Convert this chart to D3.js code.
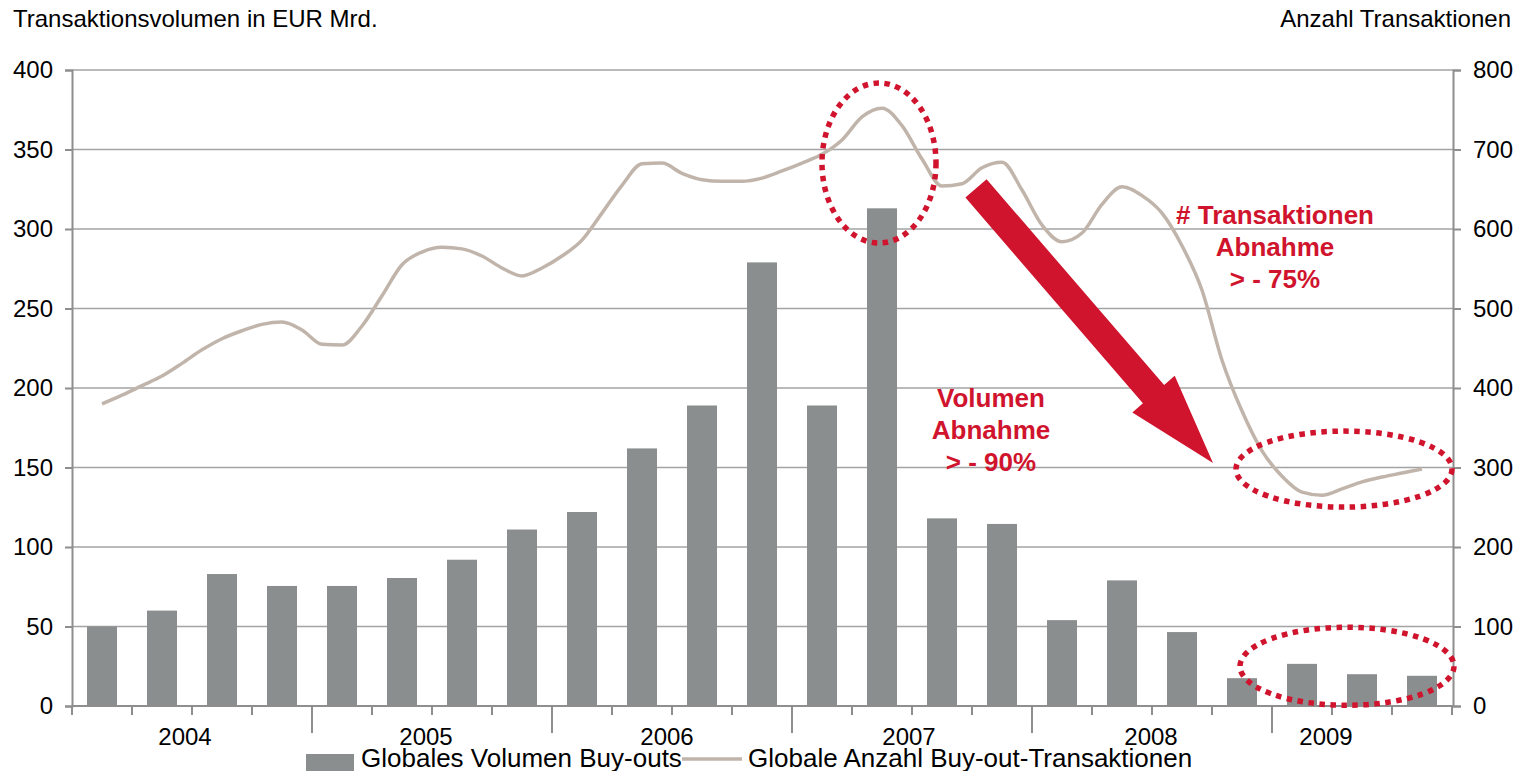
<!DOCTYPE html>
<html><head><meta charset="utf-8">
<script src="https://cdn.jsdelivr.net/npm/d3@7"></script>
<style>
html,body{margin:0;padding:0;background:#fff;}
svg{display:block;font-family:"Liberation Sans",Arial,sans-serif;}
</style></head>
<body>
<svg id="chart" width="1524" height="771"></svg>
<script>
// ---- data ----
const quarters = ["Q1 2004","Q2 2004","Q3 2004","Q4 2004","Q1 2005","Q2 2005","Q3 2005","Q4 2005",
  "Q1 2006","Q2 2006","Q3 2006","Q4 2006","Q1 2007","Q2 2007","Q3 2007","Q4 2007",
  "Q1 2008","Q2 2008","Q3 2008","Q4 2008","Q1 2009","Q2 2009","Q3 2009"];
const years = ["2004","2005","2006","2007","2008","2009"];
const volume = [50,60,83,75.5,75.5,80.5,92,111,122,162,189,279,189,313,118,114.5,54,79,46.5,17.5,26.5,20,19];
// monthly number of deals (Jan 2004 .. Jul 2009)
const deals = [380,391,403,415,431,448,462,472,480,483,473,455,454,478,516,555,571,577,575,566,
  551,541,551,566,586,620,655,682,683,670,662,660,660,664,673,683,694,712,741,752,
  730,688,654,657,677,684,649,605,584,595,631,653,642,620,579,523,435,371,321,289,
  269,265,273,282,288,293,298];
const leftTicks = [0,50,100,150,200,250,300,350,400];
const rightTicks = [0,100,200,300,400,500,600,700,800];
const titleLeft = "Transaktionsvolumen in EUR Mrd.";
const titleRight = "Anzahl Transaktionen";
const seriesNames = ["Globales Volumen Buy-outs","Globale Anzahl Buy-out-Transaktionen"];
const noteVolume = ["Volumen","Abnahme","> - 90%"];
const noteDeals = ["# Transaktionen","Abnahme","> - 75%"];

// ---- layout ----
const L = 72, R = 1453, T = 70, B = 706;
const barColor = "#8b8e8e", lineColor = "#c1b5ab", gridColor = "#a3a3a3", axisColor = "#8e8e8e", red = "#d0142e";
const svg = d3.select("#chart");

const x = d3.scaleBand(quarters, [L, R - 1]).paddingInner(0.5).paddingOuter(0.25);
const yL = d3.scaleLinear([0, 400], [B, T]);
const yR = d3.scaleLinear([0, 800], [B, T]);
const xc = q => x(q) + x.bandwidth() / 2;
const xm = d3.scaleLinear([0, deals.length - 1], [xc(quarters[0]), xc(quarters[quarters.length - 1])]);
const step = x.step();

// gridlines
svg.append("g").selectAll("line").data(leftTicks.filter(d => d > 0)).join("line")
  .attr("x1", L).attr("x2", R).attr("y1", d => yL(d)).attr("y2", d => yL(d))
  .attr("stroke", gridColor).attr("stroke-width", 1.5);

// bars
svg.append("g").selectAll("rect").data(volume).join("rect")
  .attr("x", (d, i) => x(quarters[i])).attr("width", x.bandwidth())
  .attr("y", d => yL(d)).attr("height", d => B - yL(d))
  .attr("fill", barColor);

// axes
const axL = svg.append("g").attr("transform", `translate(${L},0)`)
  .call(d3.axisLeft(yL).tickValues(leftTicks).tickSize(7).tickPadding(12));
const axR = svg.append("g").attr("transform", `translate(${R},0)`)
  .call(d3.axisRight(yR).tickValues(rightTicks).tickSize(8).tickPadding(12));
[axL, axR].forEach(a => {
  a.select(".domain").attr("stroke", axisColor).attr("stroke-width", 2);
  a.selectAll(".tick line").attr("stroke", axisColor).attr("stroke-width", 2);
  a.selectAll(".tick text").attr("font-size", 24).attr("fill", "#000")
    .attr("font-family", '"Liberation Sans",Arial,sans-serif');
});

// bottom axis line
svg.append("line").attr("x1", L).attr("x2", R).attr("y1", B).attr("y2", B)
  .attr("stroke", axisColor).attr("stroke-width", 2);
// category ticks
const bounds = quarters.map((q, i) => ({i, pos: x(q) - step * x.paddingInner() / 2}));
bounds.push({i: quarters.length, pos: x(quarters[quarters.length - 1]) + x.bandwidth() + step * x.paddingInner() / 2});
svg.append("g").selectAll("line").data(bounds).join("line")
  .attr("x1", d => d.pos).attr("x2", d => d.pos)
  .attr("y1", B).attr("y2", d => (d.i % 4 === 0 && d.i > 0 && d.i < quarters.length) ? 733 : 715)
  .attr("stroke", axisColor).attr("stroke-width", 2);
// year labels (Excel-like placement: slightly left of group centre; last, partial year shifted further)
const yearShift = {"2004": -7, "2005": -6, "2006": -5, "2007": -3, "2008": -1, "2009": -36};
svg.append("g").selectAll("text").data(years).join("text")
  .attr("x", y => {
    const qs = quarters.filter(q => q.endsWith(y));
    return (x(qs[0]) + x(qs[qs.length - 1]) + x.bandwidth()) / 2 + yearShift[y];
  })
  .attr("y", 745).attr("text-anchor", "middle").attr("font-size", 24).text(d => d);

// line
svg.append("path").datum(deals)
  .attr("d", d3.line().x((d, i) => xm(i)).y(d => yR(d)).curve(d3.curveMonotoneX))
  .attr("fill", "none").attr("stroke", lineColor).attr("stroke-width", 3.5).attr("stroke-linejoin", "round");

// titles
svg.append("text").attr("x", 13).attr("y", 27).attr("font-size", 24).text(titleLeft);
svg.append("text").attr("x", 1511).attr("y", 27).attr("font-size", 24).attr("text-anchor", "end").text(titleRight);

// annotations: dotted ellipses
const ell = [
  {cx: xc(quarters[13]) - 3, cy: yR(683), rx: 57, ry: 80},
  {cx: xm(62.1), cy: yR(298), rx: 108, ry: 38},
  {cx: xm(62.25), cy: yL(25), rx: 107, ry: 39}
];
svg.append("g").selectAll("ellipse").data(ell).join("ellipse")
  .attr("cx", d => d.cx).attr("cy", d => d.cy).attr("rx", d => d.rx).attr("ry", d => d.ry)
  .attr("fill", "none").attr("stroke", red).attr("stroke-width", 5.5).attr("stroke-dasharray", "5.5 5.5");

// arrow
(function () {
  const x0 = xm(43.7), y0 = yR(651), x1 = xm(55.55), y1 = yR(305.7);
  const dx = x1 - x0, dy = y1 - y0, len = Math.hypot(dx, dy);
  const ux = dx / len, uy = dy / len, nx = -uy, ny = ux;
  const sw = 14, hw = 28, hl = 91;
  const P = (a, p) => [x0 + ux * a + nx * p, y0 + uy * a + ny * p];
  const pts = [P(0, -sw), P(len - hl, -sw), P(len - hl, -hw), P(len, 0), P(len - hl, hw), P(len - hl, sw), P(0, sw)];
  svg.append("polygon").attr("points", pts.map(p => p.join(",")).join(" ")).attr("fill", red);
})();

// annotation texts
function note(lines, cx, baseY) {
  svg.append("g").selectAll("text").data(lines).join("text")
    .attr("x", cx).attr("y", (d, i) => baseY + i * 32)
    .attr("text-anchor", "middle").attr("font-size", 26).attr("font-weight", "bold")
    .attr("fill", red).text(d => d);
}
note(noteVolume, xm(44.45), yL(188));
note(noteDeals, xm(58.65), yR(606));

// legend
svg.append("rect").attr("x", 306).attr("y", 754).attr("width", 48).attr("height", 20).attr("fill", barColor);
svg.append("text").attr("x", 361).attr("y", 767).attr("font-size", 26).text(seriesNames[0]);
svg.append("line").attr("x1", 682).attr("x2", 742).attr("y1", 759).attr("y2", 759)
  .attr("stroke", lineColor).attr("stroke-width", 3.5);
svg.append("text").attr("x", 748).attr("y", 767).attr("font-size", 26).text(seriesNames[1]);
</script>
</body></html>
